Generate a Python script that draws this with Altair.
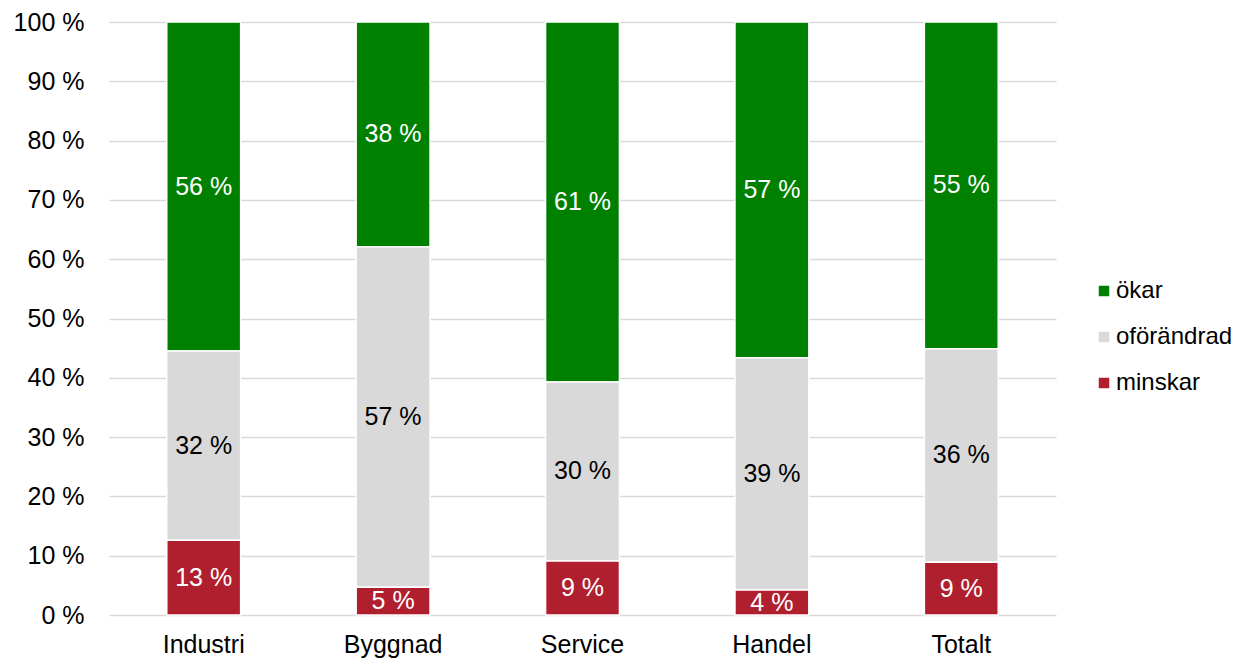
import altair as alt
import pandas as pd

categories = ["Industri", "Byggnad", "Service", "Handel", "Totalt"]
series = ["ökar", "oförändrad", "minskar"]
minskar = [12.6, 4.7, 9.1, 4.2, 8.9]
oforandrad = [31.9, 57.4, 30.2, 39.2, 36.0]
okar = [55.5, 37.9, 60.7, 56.6, 55.1]
colors = ["#008000", "#d9d9d9", "#b01f2e"]
text_colors = ["white", "black", "white"]
stack_rank = [2, 1, 0]
y_ticks = [0, 10, 20, 30, 40, 50, 60, 70, 80, 90, 100]

rows = []
for i, c in enumerate(categories):
    for s, vals in zip(series, [okar, oforandrad, minskar]):
        j = series.index(s)
        rows.append({"cat": c, "series": s, "value": vals[i],
                     "rank": stack_rank[j], "tc": text_colors[j]})
df = pd.DataFrame(rows)

FONT = "Liberation Sans"
FS = 25

base = alt.Chart(df).transform_stack(
    stack="value", as_=["y0", "y1"], groupby=["cat"],
    sort=[alt.SortField("rank", order="ascending")]
).transform_calculate(
    mid="(datum.y0 + datum.y1) / 2",
    label="format(datum.value, '.0f') + ' %'"
)

xaxis = alt.Axis(labelAngle=0, ticks=False, domain=False,
                 labelFontSize=FS, labelFont=FONT, labelColor="black",
                 labelPadding=17, grid=False)
xscale = alt.Scale(paddingInner=0.61, paddingOuter=0.305)
yaxis = alt.Axis(values=y_ticks, labelExpr="datum.value + ' %'",
                 ticks=False, domain=False, grid=True,
                 gridColor="#d9d9d9", gridWidth=1.5,
                 labelFontSize=FS, labelFont=FONT, labelColor="black",
                 labelPadding=25)
yscale = alt.Scale(domain=[0, 100], nice=False)

bars = base.mark_bar(stroke="white", strokeWidth=1.5).encode(
    x=alt.X("cat:N", sort=categories, title=None, scale=xscale, axis=xaxis),
    y=alt.Y("y0:Q", title=None, scale=yscale, axis=yaxis),
    y2="y1:Q",
    color=alt.Color("series:N",
                    scale=alt.Scale(domain=series, range=colors),
                    legend=alt.Legend(title=None, orient="none",
                                      legendX=983, legendY=257,
                                      padding=0,
                                      symbolType="square", symbolSize=110,
                                      symbolStrokeWidth=0,
                                      labelFontSize=24, labelFont=FONT,
                                      labelColor="black", rowPadding=22,
                                      labelOffset=0)),
)

texts = base.mark_text(font=FONT, fontSize=FS, baseline="middle").encode(
    x=alt.X("cat:N", sort=categories, title=None, scale=xscale, axis=xaxis),
    y=alt.Y("mid:Q", title=None, scale=yscale, axis=yaxis),
    text="label:N",
    color=alt.Color("tc:N", scale=None),
)

chart = alt.layer(bars, texts).properties(
    width=947, height=593,
    background="white",
    autosize=alt.AutoSizeParams(type="none"),
    padding={"left": 101, "top": 14, "right": 181, "bottom": 45},
).configure_view(stroke=None)

chart.save("out.html", embed_options={"renderer": "svg", "actions": False})
